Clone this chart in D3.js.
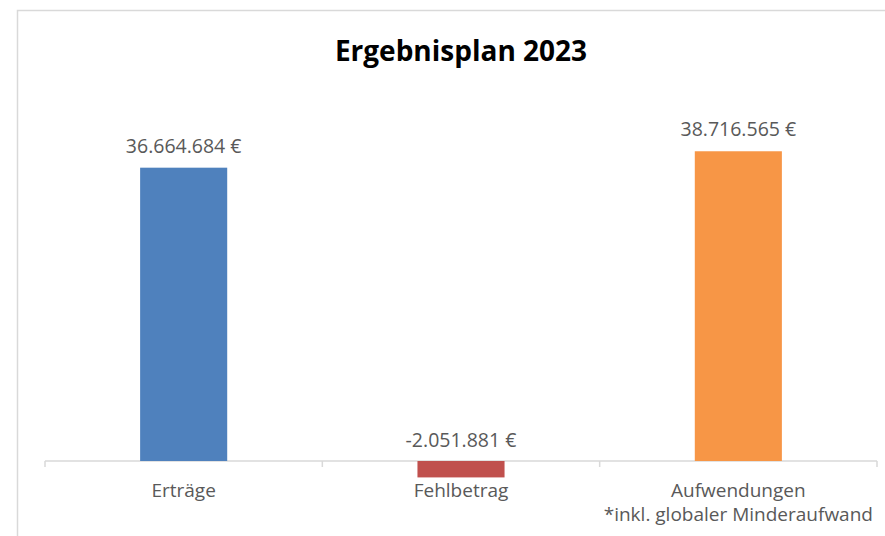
<!DOCTYPE html>
<html lang="de">
<head>
  <meta charset="UTF-8">
  <title>Ergebnisplan 2023</title>
  <script src="https://d3js.org/d3.v7.min.js"></script>
  <style>
    body { margin: 0; background: #fff; }
    text { font-family: "Open Sans", sans-serif; }
  </style>
</head>
<body>
<div class="main"></div>
<script>

  // chart data
  const categories = ["Erträge", "Fehlbetrag", "Aufwendungen"];
  const values = [36664684, -2051881, 38716565];
  const colors = ["#4f81bd", "#c0504d", "#f79646"];
  const subLabels = ["", "", "*inkl. globaler Minderaufwand"];
  const title = "Ergebnisplan 2023";

  const width = 885, height = 536;

  const fmt = d3.formatLocale({decimal: ",", thousands: ".", grouping: [3], currency: ["", " €"], minus: "-"}).format(",.0f");

  let svg = d3.select(".main")
          .append("svg")
          .attr("width", width)
          .attr("height", height)
          .style("display", "block");

  // chart frame (right and bottom edges lie outside the picture)
  svg.append("rect")
          .attr("x", 17.5).attr("y", 10.5)
          .attr("width", 900).attr("height", 600)
          .style("fill", "none")
          .style("stroke", "#d9d9d9")
          .style("stroke-width", 1.5);

  let xScale = d3.scaleBand()
          .domain(categories)
          .range([45, 877])
          .paddingInner(0.686)
          .paddingOuter(0.343);

  let yScale = d3.scaleLinear()
          .domain([-5000000, 45000000])
          .range([501, 101]);

  // axis with ticks at category boundaries
  let step = (877 - 45) / categories.length;
  let xAxis = d3.axisBottom(xScale).tickSize(0).tickFormat("");
  let axisG = svg.append("g")
          .attr("transform", `translate(0, ${yScale(0)})`)
          .call(xAxis);
  axisG.select(".domain").remove();
  axisG.append("line")
          .attr("x1", 45).attr("x2", 877)
          .style("stroke", "#d9d9d9").style("stroke-width", 1.5);
  axisG.selectAll(".bound")
          .data(d3.range(categories.length + 1))
          .join("line")
          .attr("class", "bound")
          .attr("x1", d => 45 + d * step).attr("x2", d => 45 + d * step)
          .attr("y1", 0).attr("y2", 6)
          .style("stroke", "#d9d9d9").style("stroke-width", 1.5);

  // bars
  svg.append("g").selectAll("rect")
          .data(values)
          .join("rect")
          .attr("x", (d, i) => xScale(categories[i]))
          .attr("width", xScale.bandwidth())
          .attr("y", d => yScale(Math.max(0, d)))
          .attr("height", d => Math.abs(yScale(d) - yScale(0)))
          .style("fill", (d, i) => colors[i]);

  // value labels
  svg.append("g").selectAll("text")
          .data(values)
          .join("text")
          .attr("x", (d, i) => xScale(categories[i]) + xScale.bandwidth() / 2)
          .attr("y", d => d >= 0 ? yScale(d) - 15 : yScale(0) - 14)
          .attr("text-anchor", "middle")
          .style("font-size", "19.5px")
          .style("fill", "#595959")
          .text(d => fmt(d) + " €");

  // category labels
  let catG = svg.append("g");
  catG.selectAll("text.cat")
          .data(categories)
          .join("text")
          .attr("class", "cat")
          .attr("x", d => xScale(d) + xScale.bandwidth() / 2)
          .attr("y", 497)
          .attr("text-anchor", "middle")
          .style("font-size", "19px")
          .style("fill", "#595959")
          .text(d => d);
  catG.selectAll("text.sub")
          .data(subLabels)
          .join("text")
          .attr("class", "sub")
          .attr("x", (d, i) => xScale(categories[i]) + xScale.bandwidth() / 2)
          .attr("y", 521)
          .attr("text-anchor", "middle")
          .style("font-size", "19px")
          .style("fill", "#595959")
          .text(d => d);

  // title
  svg.append("text")
          .attr("x", 461).attr("y", 61)
          .attr("text-anchor", "middle")
          .style("font-size", "28px")
          .style("font-weight", "bold")
          .style("fill", "#000")
          .text(title);

</script>
</body>
</html>
